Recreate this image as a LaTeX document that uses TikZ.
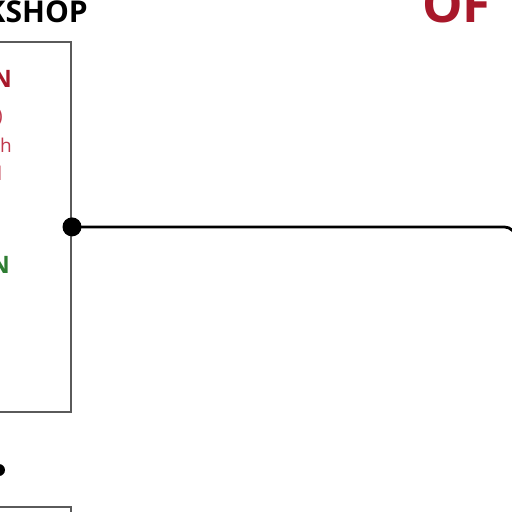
\documentclass[tikz,border=0pt]{standalone}
\usepackage{fontspec}
\setmainfont{Open Sans}
\usetikzlibrary{positioning}
\definecolor{crimson}{HTML}{A8182A}
\definecolor{softred}{HTML}{C0384C}
\definecolor{leafgreen}{HTML}{2E7D32}
\definecolor{boxgray}{HTML}{5A5A5A}
\newcommand{\headsize}[0]{\fontsize{30}{32}\selectfont\bfseries}
\newcommand{\bigheadsize}[0]{\fontsize{51}{53}\selectfont\bfseries}
\newcommand{\itemsize}[0]{\fontsize{24}{26}\selectfont\bfseries}
\newcommand{\notesize}[0]{\fontsize{19}{21}\selectfont}

\begin{document}
\begin{tikzpicture}[x=1pt, y=-1pt,
    panel/.style={rectangle, draw=boxgray, line width=1.8pt, minimum width=200pt,
        minimum height=370pt, inner sep=0pt},
    joint/.style={circle, fill=black, minimum size=19pt, inner sep=0pt},
    smalljoint/.style={circle, fill=black, minimum size=12pt, inner sep=0pt},
    link/.style={draw=black, line width=2.8pt}]
    \useasboundingbox (0,0) rectangle (512,512);
    \clip (0,0) rectangle (512,512);
    % workshop panel
    \node[panel, anchor=north east] (shop) at (72,41) {};
    \node[anchor=base east, inner sep=0pt] (shop-title) at (88,22) {\headsize WORKSHOP};
    \node[anchor=base east, inner sep=0pt, text=crimson] (shop-session) at (12,87) {\itemsize SESSION};
    \node[anchor=base east, inner sep=0pt, text=softred] (shop-note-a) at (3,122) {\notesize (all)};
    \node[anchor=base east, inner sep=0pt, text=softred] (shop-note-b) at (12,152) {\notesize with};
    \node[anchor=base east, inner sep=0pt, text=softred!50] (shop-note-c) at (3,180) {\notesize all};
    \node[anchor=base east, inner sep=0pt, text=leafgreen] (shop-open) at (10,273) {\itemsize OPEN};
    % title on the right
    \node[anchor=base west, inner sep=0pt, text=crimson] (of-title) at (422,22) {\bigheadsize OF};
    % connector
    \node[joint] (shop-joint) at (shop.east) {};
    \coordinate (drop) at (516,330);
    \draw[link, rounded corners=12pt] (shop-joint.center) -| (drop);
    % next panel below
    \node[smalljoint] (next-joint) at (-1,470) {};
    \node[panel, anchor=north east] (next) at (72,506) {};
\end{tikzpicture}
\end{document}
